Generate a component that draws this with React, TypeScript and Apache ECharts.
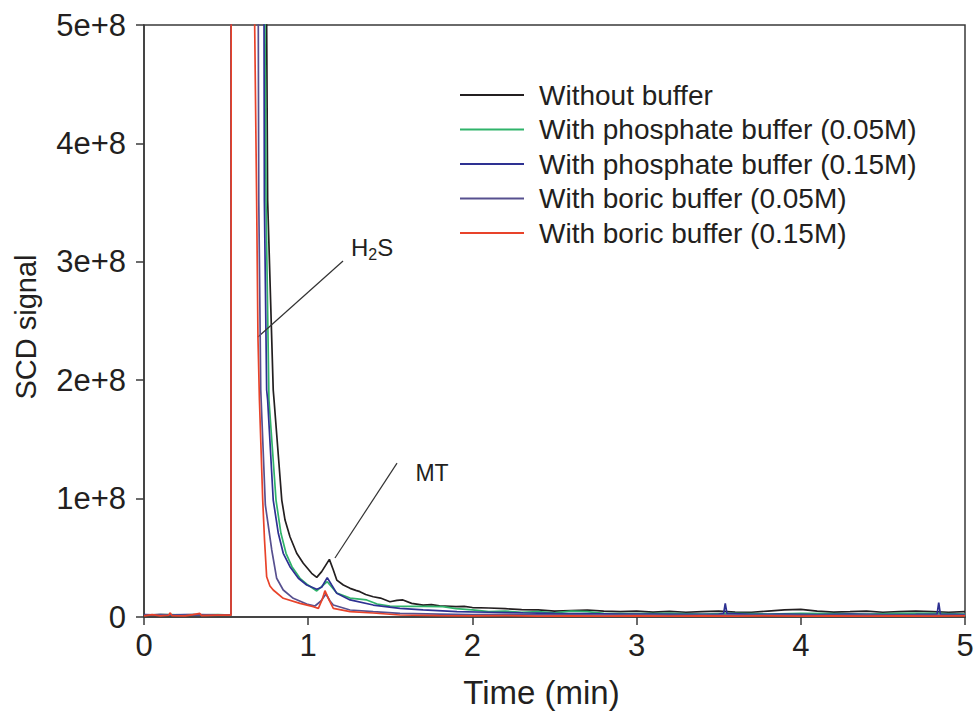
import React, { useEffect, useRef } from "react";
import * as echarts from "echarts";

const seriesNames = [
  "Without buffer",
  "With phosphate buffer (0.05M)",
  "With phosphate buffer (0.15M)",
  "With boric buffer (0.05M)",
  "With boric buffer (0.15M)",
];
const seriesColors = ["#231f20", "#2fb36a", "#2e3192", "#57508f", "#e8432a"];

const xTicks = [0, 1, 2, 3, 4, 5];
const yTicks = [0, 1e8, 2e8, 3e8, 4e8, 5e8];

// values: [time (min), signal in units of 1e8]
const withoutBuffer: [number, number][] = [
  [0, 0.015], [0.1, 0.02], [0.2, 0.015], [0.3, 0.02], [0.4, 0.015], [0.53, 0.02],
  [0.535, 30], [0.73, 30], [0.747, 5.0], [0.753, 3.52], [0.787, 1.917], [0.792, 1.833],
  [0.839, 0.988], [0.859, 0.819], [0.889, 0.678], [0.93, 0.538], [0.97, 0.454],
  [1.021, 0.369], [1.052, 0.335], [1.082, 0.383], [1.129, 0.487], [1.153, 0.397],
  [1.174, 0.312], [1.214, 0.27], [1.255, 0.242], [1.29, 0.225], [1.315, 0.214],
  [1.35, 0.19], [1.396, 0.171], [1.44, 0.16], [1.498, 0.129], [1.54, 0.14], [1.577, 0.144],
  [1.63, 0.115], [1.7, 0.1], [1.75, 0.105], [1.8, 0.095], [1.9, 0.087], [1.95, 0.09],
  [2.0, 0.08], [2.1, 0.076], [2.2, 0.07], [2.3, 0.062], [2.4, 0.06], [2.5, 0.05],
  [2.6, 0.055], [2.7, 0.059], [2.8, 0.05], [2.9, 0.045], [3.0, 0.05], [3.1, 0.042],
  [3.2, 0.048], [3.3, 0.04], [3.4, 0.045], [3.5, 0.05], [3.6, 0.042], [3.7, 0.04],
  [3.8, 0.05], [3.9, 0.06], [4.0, 0.065], [4.1, 0.05], [4.2, 0.042], [4.3, 0.045],
  [4.4, 0.05], [4.5, 0.04], [4.6, 0.045], [4.7, 0.05], [4.8, 0.045], [4.9, 0.04],
  [5.0, 0.045],
];
const phosphate005: [number, number][] = [
  [0, 0.015], [0.15, 0.02], [0.3, 0.015], [0.45, 0.02], [0.53, 0.015],
  [0.535, 30], [0.72, 30], [0.737, 5.0], [0.743, 3.52], [0.761, 1.833],
  [0.804, 0.988], [0.834, 0.707], [0.865, 0.538], [0.901, 0.425], [0.95, 0.327],
  [0.999, 0.27], [1.052, 0.22], [1.116, 0.298], [1.174, 0.203], [1.255, 0.16],
  [1.356, 0.144], [1.42, 0.11], [1.498, 0.093], [1.6, 0.09], [1.7, 0.09], [1.82, 0.087],
  [1.9, 0.07], [2.0, 0.06], [2.1, 0.045], [2.2, 0.05], [2.3, 0.04], [2.4, 0.045],
  [2.5, 0.035], [2.6, 0.05], [2.7, 0.045], [2.8, 0.03], [3.0, 0.028], [3.2, 0.03],
  [3.4, 0.025], [3.6, 0.03], [3.8, 0.025], [4.0, 0.03], [4.2, 0.028], [4.4, 0.025],
  [4.6, 0.03], [4.8, 0.03], [5.0, 0.025],
];
const phosphate015: [number, number][] = [
  [0, 0.02], [0.12, 0.015], [0.25, 0.02], [0.4, 0.015], [0.53, 0.02],
  [0.535, 30], [0.715, 30], [0.731, 5.0], [0.733, 3.52], [0.747, 1.917], [0.753, 1.833],
  [0.787, 0.988], [0.818, 0.707], [0.848, 0.538], [0.889, 0.425], [0.94, 0.327],
  [0.991, 0.27], [1.052, 0.234], [1.082, 0.251], [1.116, 0.333], [1.143, 0.27],
  [1.174, 0.2], [1.255, 0.144], [1.396, 0.101], [1.559, 0.073], [1.7, 0.06],
  [1.906, 0.045], [2.1, 0.04], [2.308, 0.034], [2.5, 0.03], [2.7, 0.028], [2.9, 0.025],
  [3.1, 0.025], [3.3, 0.022], [3.5, 0.025], [3.53, 0.03], [3.54, 0.116], [3.55, 0.03],
  [3.7, 0.022], [3.9, 0.025], [4.1, 0.02], [4.3, 0.025], [4.5, 0.02], [4.7, 0.022],
  [4.83, 0.025], [4.84, 0.121], [4.85, 0.025], [5.0, 0.02],
];
const boric005: [number, number][] = [
  [0, 0.015], [0.1, 0.02], [0.22, 0.015], [0.35, 0.02], [0.53, 0.015],
  [0.535, 30], [0.68, 30], [0.696, 5.0], [0.699, 3.52], [0.711, 1.917], [0.739, 0.946],
  [0.778, 0.566], [0.808, 0.327], [0.848, 0.228], [0.909, 0.158], [0.991, 0.11],
  [1.041, 0.093], [1.078, 0.135], [1.108, 0.194], [1.133, 0.135], [1.153, 0.101],
  [1.255, 0.059], [1.396, 0.045], [1.559, 0.031], [1.8, 0.025], [2.0, 0.02],
  [2.2, 0.022], [2.4, 0.018], [2.6, 0.02], [2.8, 0.017], [3.0, 0.02], [3.2, 0.016],
  [3.4, 0.018], [3.6, 0.015], [3.8, 0.018], [4.0, 0.016], [4.2, 0.015], [4.4, 0.018],
  [4.6, 0.015], [4.8, 0.016], [5.0, 0.015],
];
const boric015: [number, number][] = [
  [0, 0.01], [0.05, 0.02], [0.1, 0.01], [0.15, 0.015], [0.16, 0.035], [0.17, 0.012],
  [0.25, 0.01], [0.3, 0.02], [0.34, 0.03], [0.35, 0.012], [0.45, 0.015], [0.53, 0.015],
  [0.535, 30], [0.66, 30], [0.674, 5.0], [0.686, 3.52], [0.694, 2.365], [0.703, 1.833],
  [0.713, 1.41], [0.723, 0.988], [0.734, 0.65], [0.747, 0.34], [0.767, 0.262],
  [0.787, 0.228], [0.848, 0.158], [0.95, 0.115], [1.031, 0.087], [1.062, 0.073],
  [1.084, 0.144], [1.102, 0.222], [1.127, 0.144], [1.153, 0.073], [1.255, 0.045],
  [1.395, 0.034], [1.559, 0.017], [1.8, 0.012], [2.0, 0.01], [2.2, 0.012], [2.4, 0.008],
  [2.6, 0.01], [2.8, 0.008], [3.0, 0.01], [3.2, 0.008], [3.4, 0.01], [3.6, 0.008],
  [3.8, 0.01], [4.0, 0.008], [4.2, 0.01], [4.4, 0.008], [4.6, 0.01], [4.8, 0.008],
  [5.0, 0.01],
];
const seriesData = [withoutBuffer, phosphate005, phosphate015, boric005, boric015];

// annotations: [time, signal/1e8]
const h2sLine: [number, number][] = [[0.694, 2.365], [1.212, 3.007]];
const h2sLabelPos: [number, number] = [1.389, 3.125];
const mtLine: [number, number][] = [[1.163, 0.498], [1.541, 1.3]];
const mtLabelPos: [number, number] = [1.754, 1.216];

const FONT = "'Liberation Sans', Arial, Helvetica, sans-serif";
const TXT = "#231f20";
const AXIS = "#3a3a3a";

export default function App() {
  const ref = useRef<HTMLDivElement>(null);
  useEffect(() => {
    if (!ref.current) return;
    const chart = echarts.init(ref.current, null, { renderer: "svg" });
    const series: any[] = seriesNames.map((name, i) => ({
      name,
      type: "line",
      data: seriesData[i].map(([t, v]) => [t, v * 1e8]),
      showSymbol: false,
      symbol: "none",
      clip: true,
      lineStyle: { color: seriesColors[i], width: 1.7 },
      itemStyle: { color: seriesColors[i] },
      z: 2 + i,
    }));
    series.push({
      name: "annotations",
      type: "line",
      data: [],
      markLine: {
        silent: true,
        symbol: "none",
        animation: false,
        label: { show: false },
        lineStyle: { color: "#333", width: 1.2, type: "solid" },
        data: [
          [{ coord: [h2sLine[0][0], h2sLine[0][1] * 1e8] }, { coord: [h2sLine[1][0], h2sLine[1][1] * 1e8] }],
          [{ coord: [mtLine[0][0], mtLine[0][1] * 1e8] }, { coord: [mtLine[1][0], mtLine[1][1] * 1e8] }],
        ],
      },
      markPoint: {
        silent: true,
        symbol: "circle",
        symbolSize: 0,
        animation: false,
        label: {
          show: true,
          position: "inside",
          color: TXT,
          fontFamily: FONT,
        },
        data: [
          {
            coord: [h2sLabelPos[0], h2sLabelPos[1] * 1e8],
            label: {
              formatter: "{n|H}{s|2}{n|S}",
              rich: {
                n: { fontSize: 24, fontFamily: FONT, color: TXT },
                s: { fontSize: 16, fontFamily: FONT, color: TXT, padding: [14, 0, 0, 0] },
              },
            },
          },
          {
            coord: [mtLabelPos[0], mtLabelPos[1] * 1e8],
            label: { formatter: "MT", fontSize: 23 },
          },
        ],
      },
    });

    chart.setOption({
      animation: false,
      backgroundColor: "#ffffff",
      grid: {
        left: 144,
        right: 13,
        top: 25,
        bottom: 105,
        show: true,
        borderColor: AXIS,
        borderWidth: 1.5,
        backgroundColor: "transparent",
      },
      legend: {
        data: seriesNames,
        orient: "vertical",
        left: 455,
        top: 75,
        icon: "rect",
        itemWidth: 64,
        itemHeight: 2,
        itemGap: 4.5,
        textStyle: {
          fontSize: 28,
          fontFamily: FONT,
          color: TXT,
          lineHeight: 30,
          padding: [0, 0, 0, 10],
        },
      },
      xAxis: {
        type: "value",
        min: xTicks[0],
        max: xTicks[xTicks.length - 1],
        interval: 1,
        name: "Time (min)",
        nameLocation: "middle",
        nameGap: 59,
        nameTextStyle: {
          fontSize: 33,
          fontFamily: FONT,
          color: TXT,
          padding: [0, 26, 0, 0],
        },
        axisLine: { show: true, onZero: false, lineStyle: { color: AXIS, width: 1.5 } },
        axisTick: { show: true, length: 8, lineStyle: { color: AXIS, width: 1.5 } },
        axisLabel: { fontSize: 31, fontFamily: FONT, color: TXT, margin: 13 },
        splitLine: { show: false },
      },
      yAxis: {
        type: "value",
        min: yTicks[0],
        max: yTicks[yTicks.length - 1],
        interval: 1e8,
        name: "SCD signal",
        nameLocation: "middle",
        nameGap: 104,
        nameTextStyle: { fontSize: 29, fontFamily: FONT, color: TXT, padding: [0, 12, 0, 0] },
        axisLine: { show: true, onZero: false, lineStyle: { color: AXIS, width: 1.5 } },
        axisTick: { show: true, length: 8, lineStyle: { color: AXIS, width: 1.5 } },
        axisLabel: {
          fontSize: 31,
          fontFamily: FONT,
          color: TXT,
          margin: 18,
          formatter: (v: number) => (v === 0 ? "0" : `${Math.round(v / 1e8)}e+8`),
        },
        splitLine: { show: false },
      },
      series,
    });
    return () => chart.dispose();
  }, []);
  return (
    <div
      ref={ref}
      style={{ position: "fixed", left: 0, top: 0, width: 978, height: 722, background: "#fff" }}
    />
  );
}
